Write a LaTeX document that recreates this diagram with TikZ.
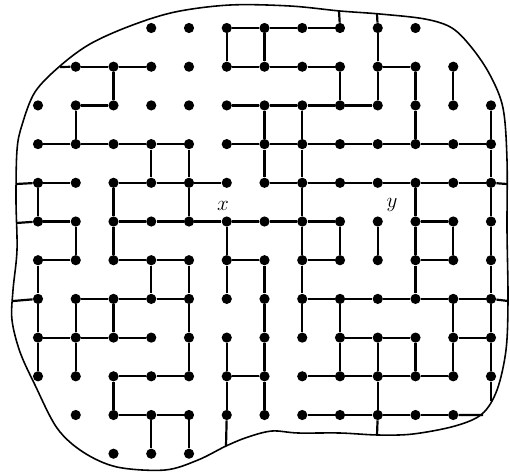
\documentclass[tikz,border=0pt]{standalone}
\begin{document}
\begin{tikzpicture}[x=0.02cm,y=-0.02cm,
  dot/.style={circle,fill=black,inner sep=0pt,minimum size=5.8pt},
  edge/.style={line width=1.25pt},
  bnd/.style={line width=0.9pt},
  lbl/.style={inner sep=0pt,font=\large}]
\useasboundingbox (0,0) rectangle (510,474);
% boundary curve
\draw[bnd] plot[smooth cycle,tension=0.55] coordinates {
 (22,125) (35,92) (60,66) (90,44) (130,26) (175,12) (230,5) (290,6) (340,11)
 (380,14) (425,19) (452,28) (472,48) (490,75) (503,108) (507,160) (507,230)
 (508,300) (506,350) (497,390) (482,414) (455,426) (413,434) (378,435)
 (340,433) (298,433) (272,431) (248,437) (226,446) (198,460) (165,470)
 (117,467) (83,452) (57,428) (35,385) (20,352) (12,320) (13,290) (17,250)
 (16,200) (17,150)};
% boundary end points
\coordinate (b1) at (60,67);
\coordinate (b2) at (16,184);
\coordinate (b3) at (16,223);
\coordinate (b4) at (13,301);
\coordinate (b5) at (507,184);
\coordinate (b6) at (508,301);
\coordinate (b7) at (483,415);
\coordinate (b8) at (491,401);
\coordinate (b9) at (377,435);
\coordinate (b10) at (226,446);
\coordinate (b11) at (339,11);
\coordinate (b12) at (377,14);
% dots
\foreach \r/\a/\b in {0/3/10,1/1/11,2/0/12,3/0/12,4/0/12,5/0/12,6/0/12,7/0/12,8/0/12,9/0/12,10/1/11,11/2/4}
  \foreach \c in {\a,...,\b}
    \node[dot] (n\c-\r) at ({38+37.75*\c},{28+38.7*\r}) {};
% horizontal edges: c/r joins (c,r)-(c+1,r)
\foreach \c/\r in {5/0,6/0,7/0,
  1/1,2/1,5/1,6/1,7/1,9/1,
  1/2,5/2,6/2,7/2,8/2,
  0/3,1/3,2/3,3/3,5/3,6/3,7/3,8/3,9/3,10/3,11/3,
  0/4,2/4,3/4,4/4,6/4,7/4,8/4,9/4,10/4,11/4,
  0/5,2/5,3/5,4/5,5/5,6/5,7/5,10/5,
  0/6,2/6,3/6,5/6,7/6,10/6,
  1/7,2/7,3/7,7/7,8/7,9/7,10/7,11/7,
  0/8,1/8,2/8,8/8,9/8,11/8,
  2/9,3/9,5/9,7/9,8/9,9/9,10/9,
  2/10,3/10,7/10,8/10,9/10,10/10}
  {\pgfmathtruncatemacro\d{\c+1}\draw[edge] (n\c-\r) -- (n\d-\r);}
% vertical edges: c/r joins (c,r)-(c,r+1)
\foreach \c/\r in {0/4,0/6,0/7,0/8,
  1/2,1/5,1/7,1/8,
  2/1,2/4,2/5,2/7,2/9,
  3/3,3/6,3/10,
  4/3,4/4,4/6,4/7,4/8,4/10,
  5/0,5/5,5/6,5/8,5/9,
  6/0,6/2,6/3,6/6,6/7,6/8,6/9,
  7/2,7/3,7/4,7/5,7/6,7/7,
  8/1,8/5,8/7,8/8,
  9/0,9/1,9/5,9/8,9/9,
  10/1,10/2,10/4,10/5,10/6,10/8,
  11/1,11/5,11/7,11/8,
  12/2,12/3,12/4,12/5,12/6,12/7,12/8}
  {\pgfmathtruncatemacro\d{\r+1}\draw[edge] (n\c-\r) -- (n\c-\d);}
% edges to the boundary
\draw[edge] (b1) -- (n1-1);
\draw[edge] (b2) -- (n0-4);
\draw[edge] (b3) -- (n0-5);
\draw[edge] (b4) -- (n0-7);
\draw[edge] (n12-4) -- (b5);
\draw[edge] (n12-7) -- (b6);
\draw[edge] (n11-10) -- (b7);
\draw[edge] (n12-9) -- (b8);
\draw[edge] (n9-10) -- (b9);
\draw[edge] (n5-10) -- (b10);
\draw[edge] (n8-0) -- (b11);
\draw[edge] (n9-0) -- (b12);
% labels
\node[lbl] (lx) at (223,206) {$x$};
\node[lbl] (ly) at (392,205) {$y$};
\end{tikzpicture}
\end{document}
